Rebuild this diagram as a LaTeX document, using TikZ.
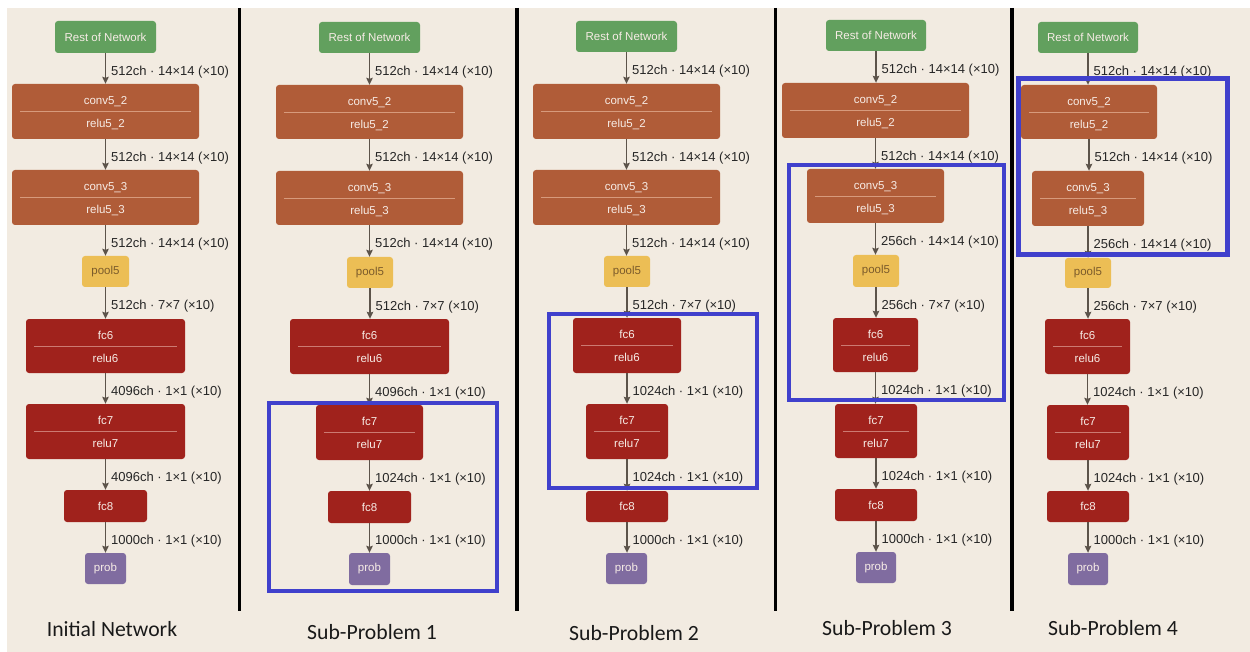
\documentclass[tikz,border=0pt]{standalone}
\usepackage{fontspec}
\setmainfont{Liberation Sans}
\newfontfamily\capfont{Carlito}
\usetikzlibrary{arrows.meta}
\definecolor{bgc}{HTML}{F2EBE1}
\definecolor{restc}{HTML}{62A05E}
\definecolor{convc}{HTML}{B05C38}
\definecolor{convsepc}{HTML}{D79A7C}
\definecolor{fcc}{HTML}{A0221C}
\definecolor{fcsepc}{HTML}{CC7A72}
\definecolor{poolc}{HTML}{ECBE55}
\definecolor{pooltxt}{HTML}{7B5B2B}
\definecolor{probc}{HTML}{806CA0}
\definecolor{boxtxtc}{HTML}{F7ECE6}
\definecolor{arrc}{HTML}{5C534A}
\definecolor{labc}{HTML}{262626}
\definecolor{bluec}{HTML}{4040CC}
\tikzset{
  box/.style={rectangle, rounded corners=3pt, inner sep=0pt, text=boxtxtc, font=\fontsize{11.5}{13}\selectfont},
  boxtxt/.style={inner sep=0pt, text=boxtxtc, font=\fontsize{11.5}{13}\selectfont},
  restbox/.style={box, fill=restc},
  convbox/.style={box, fill=convc},
  convbox sep/.style={draw=convsepc, line width=0.8pt},
  fcbox/.style={box, fill=fcc},
  fcbox sep/.style={draw=fcsepc, line width=0.8pt},
  poolbox/.style={box, fill=poolc, text=pooltxt},
  probbox/.style={box, fill=probc},
  arr/.style={draw=arrc, line width=1.3pt, -{Stealth[length=7pt,width=6.5pt,inset=1pt]}},
  lab/.style={anchor=west, inner sep=1.5pt, xshift=3.5pt, yshift=-3.5pt, text=labc, font=\fontsize{13}{15}\selectfont},
  sepblk/.style={draw=black, line width=3.4pt},
  bluebox/.style={draw=bluec, line width=4pt},
  caplab/.style={anchor=base, inner sep=0pt, text=black!90, font=\capfont\fontsize{21.7}{24}\selectfont},
}
\newcommand\onebox[7]{%
  \pgfmathsetmacro\bw{#5-#3}\pgfmathsetmacro\bh{#6-#4}%
  \pgfmathsetmacro\bx{(#3+#5)/2}\pgfmathsetmacro\by{(#4+#6)/2}%
  \node[#1, minimum width=\bw pt, minimum height=\bh pt] (#2) at (\bx,\by) {#7};}
\newcommand\twobox[8]{%
  \onebox{#1}{#2}{#3}{#4}{#5}{#6}{}%
  \draw[#1 sep] ([xshift=8pt]#2.west) -- ([xshift=-8pt]#2.east);
  \node[boxtxt, anchor=base] (#2-a) at ([yshift=-21pt]#2.north) {#7};
  \node[boxtxt, anchor=base] (#2-b) at ([yshift=-44pt]#2.north) {#8};}
\newcommand\conn[3]{\draw[arr] (#1.south) -- node[lab]{#3} (#1.south |- #2.north);}
\newcommand\sz[2]{#1ch · #2×#2 (×10)}
\begin{document}
\begin{tikzpicture}[x=1pt,y=-1pt]
\useasboundingbox (0,0) rectangle (1250,652);
\fill[white] (0,0) rectangle (1250,652);
\fill[bgc] (7,8) rectangle (1250,652);
% separators
\draw[sepblk] (239.3,8) -- (239.3,611);
\draw[sepblk] (517,8) -- (517,611);
\draw[sepblk] (775.6,8) -- (775.6,611);
\draw[sepblk] (1012,8) -- (1012,611);
% ---------- column 1
\onebox{restbox}{a-rest}{55}{21}{156}{53}{Rest of Network}
\twobox{convbox}{a-c52}{12}{84}{199}{139}{conv5\_2}{relu5\_2}
\twobox{convbox}{a-c53}{12}{170}{199}{225}{conv5\_3}{relu5\_3}
\onebox{poolbox}{a-pool}{82}{256}{129}{287}{pool5}
\twobox{fcbox}{a-fc6}{26}{319}{185}{373}{fc6}{relu6}
\twobox{fcbox}{a-fc7}{26}{404}{185}{459}{fc7}{relu7}
\onebox{fcbox}{a-fc8}{64}{490}{147}{522}{fc8}
\onebox{probbox}{a-prob}{85}{553}{126}{584}{prob}
\conn{a-rest}{a-c52}{\sz{512}{14}}
\conn{a-c52}{a-c53}{\sz{512}{14}}
\conn{a-c53}{a-pool}{\sz{512}{14}}
\conn{a-pool}{a-fc6}{\sz{512}{7}}
\conn{a-fc6}{a-fc7}{\sz{4096}{1}}
\conn{a-fc7}{a-fc8}{\sz{4096}{1}}
\conn{a-fc8}{a-prob}{\sz{1000}{1}}
\node[caplab] (cap-a) at (112,636.5) {Initial Network};
% ---------- column 2
\onebox{restbox}{b-rest}{319}{22}{420}{53}{Rest of Network}
\twobox{convbox}{b-c52}{276}{85}{463}{139}{conv5\_2}{relu5\_2}
\twobox{convbox}{b-c53}{276}{171}{463}{225}{conv5\_3}{relu5\_3}
\onebox{poolbox}{b-pool}{347}{257}{393}{288}{pool5}
\twobox{fcbox}{b-fc6}{290}{319}{449}{374}{fc6}{relu6}
\twobox{fcbox}{b-fc7}{316}{405}{423}{460}{fc7}{relu7}
\onebox{fcbox}{b-fc8}{328}{491}{411}{523}{fc8}
\onebox{probbox}{b-prob}{349}{553}{390}{585}{prob}
\conn{b-rest}{b-c52}{\sz{512}{14}}
\conn{b-c52}{b-c53}{\sz{512}{14}}
\conn{b-c53}{b-pool}{\sz{512}{14}}
\conn{b-pool}{b-fc6}{\sz{512}{7}}
\conn{b-fc6}{b-fc7}{\sz{4096}{1}}
\conn{b-fc7}{b-fc8}{\sz{1024}{1}}
\conn{b-fc8}{b-prob}{\sz{1000}{1}}
\draw[bluebox] (268.7,402.7) rectangle (497.3,591.3);
\node[caplab] (cap-b) at (372,639) {Sub-Problem 1};
% ---------- column 3
\onebox{restbox}{c-rest}{576}{21}{677}{52}{Rest of Network}
\twobox{convbox}{c-c52}{533}{84}{720}{139}{conv5\_2}{relu5\_2}
\twobox{convbox}{c-c53}{533}{170}{720}{225}{conv5\_3}{relu5\_3}
\onebox{poolbox}{c-pool}{604}{256}{650}{287}{pool5}
\twobox{fcbox}{c-fc6}{573}{318}{681}{373}{fc6}{relu6}
\twobox{fcbox}{c-fc7}{586}{404}{668}{459}{fc7}{relu7}
\onebox{fcbox}{c-fc8}{586}{491}{668}{522}{fc8}
\onebox{probbox}{c-prob}{606}{553}{647}{584}{prob}
\conn{c-rest}{c-c52}{\sz{512}{14}}
\conn{c-c52}{c-c53}{\sz{512}{14}}
\conn{c-c53}{c-pool}{\sz{512}{14}}
\conn{c-pool}{c-fc6}{\sz{512}{7}}
\conn{c-fc6}{c-fc7}{\sz{1024}{1}}
\conn{c-fc7}{c-fc8}{\sz{1024}{1}}
\conn{c-fc8}{c-prob}{\sz{1000}{1}}
\draw[bluebox] (548.7,314.3) rectangle (757,488);
\node[caplab] (cap-c) at (634,640) {Sub-Problem 2};
% ---------- column 4
\onebox{restbox}{d-rest}{826}{20}{926}{51}{Rest of Network}
\twobox{convbox}{d-c52}{782}{83}{969}{138}{conv5\_2}{relu5\_2}
\twobox{convbox}{d-c53}{807}{169}{944}{223}{conv5\_3}{relu5\_3}
\onebox{poolbox}{d-pool}{853}{255}{899}{287}{pool5}
\twobox{fcbox}{d-fc6}{833}{318}{918}{372}{fc6}{relu6}
\twobox{fcbox}{d-fc7}{835}{404}{917}{458}{fc7}{relu7}
\onebox{fcbox}{d-fc8}{835}{489}{917}{521}{fc8}
\onebox{probbox}{d-prob}{856}{552}{896}{583}{prob}
\conn{d-rest}{d-c52}{\sz{512}{14}}
\conn{d-c52}{d-c53}{\sz{512}{14}}
\conn{d-c53}{d-pool}{\sz{256}{14}}
\conn{d-pool}{d-fc6}{\sz{256}{7}}
\conn{d-fc6}{d-fc7}{\sz{1024}{1}}
\conn{d-fc7}{d-fc8}{\sz{1024}{1}}
\conn{d-fc8}{d-prob}{\sz{1000}{1}}
\draw[bluebox] (789.3,164.7) rectangle (1004.3,400.3);
\node[caplab] (cap-d) at (887,635.5) {Sub-Problem 3};
% ---------- column 5
\onebox{restbox}{e-rest}{1038}{22}{1138}{53}{Rest of Network}
\twobox{convbox}{e-c52}{1021}{85}{1157}{139}{conv5\_2}{relu5\_2}
\twobox{convbox}{e-c53}{1032}{171}{1144}{226}{conv5\_3}{relu5\_3}
\onebox{poolbox}{e-pool}{1065}{258}{1111}{288}{pool5}
\twobox{fcbox}{e-fc6}{1045}{319}{1130}{374}{fc6}{relu6}
\twobox{fcbox}{e-fc7}{1047}{405}{1129}{460}{fc7}{relu7}
\onebox{fcbox}{e-fc8}{1047}{491}{1129}{522}{fc8}
\onebox{probbox}{e-prob}{1068}{553}{1108}{585}{prob}
\conn{e-rest}{e-c52}{\sz{512}{14}}
\conn{e-c52}{e-c53}{\sz{512}{14}}
\conn{e-c53}{e-pool}{\sz{256}{14}}
\conn{e-pool}{e-fc6}{\sz{256}{7}}
\conn{e-fc6}{e-fc7}{\sz{1024}{1}}
\conn{e-fc7}{e-fc8}{\sz{1024}{1}}
\conn{e-fc8}{e-prob}{\sz{1000}{1}}
\draw[bluebox, line width=4.8pt] (1018.3,78.7) rectangle (1227.7,254.8);
\node[caplab] (cap-e) at (1113,635) {Sub-Problem 4};
\end{tikzpicture}
\end{document}
